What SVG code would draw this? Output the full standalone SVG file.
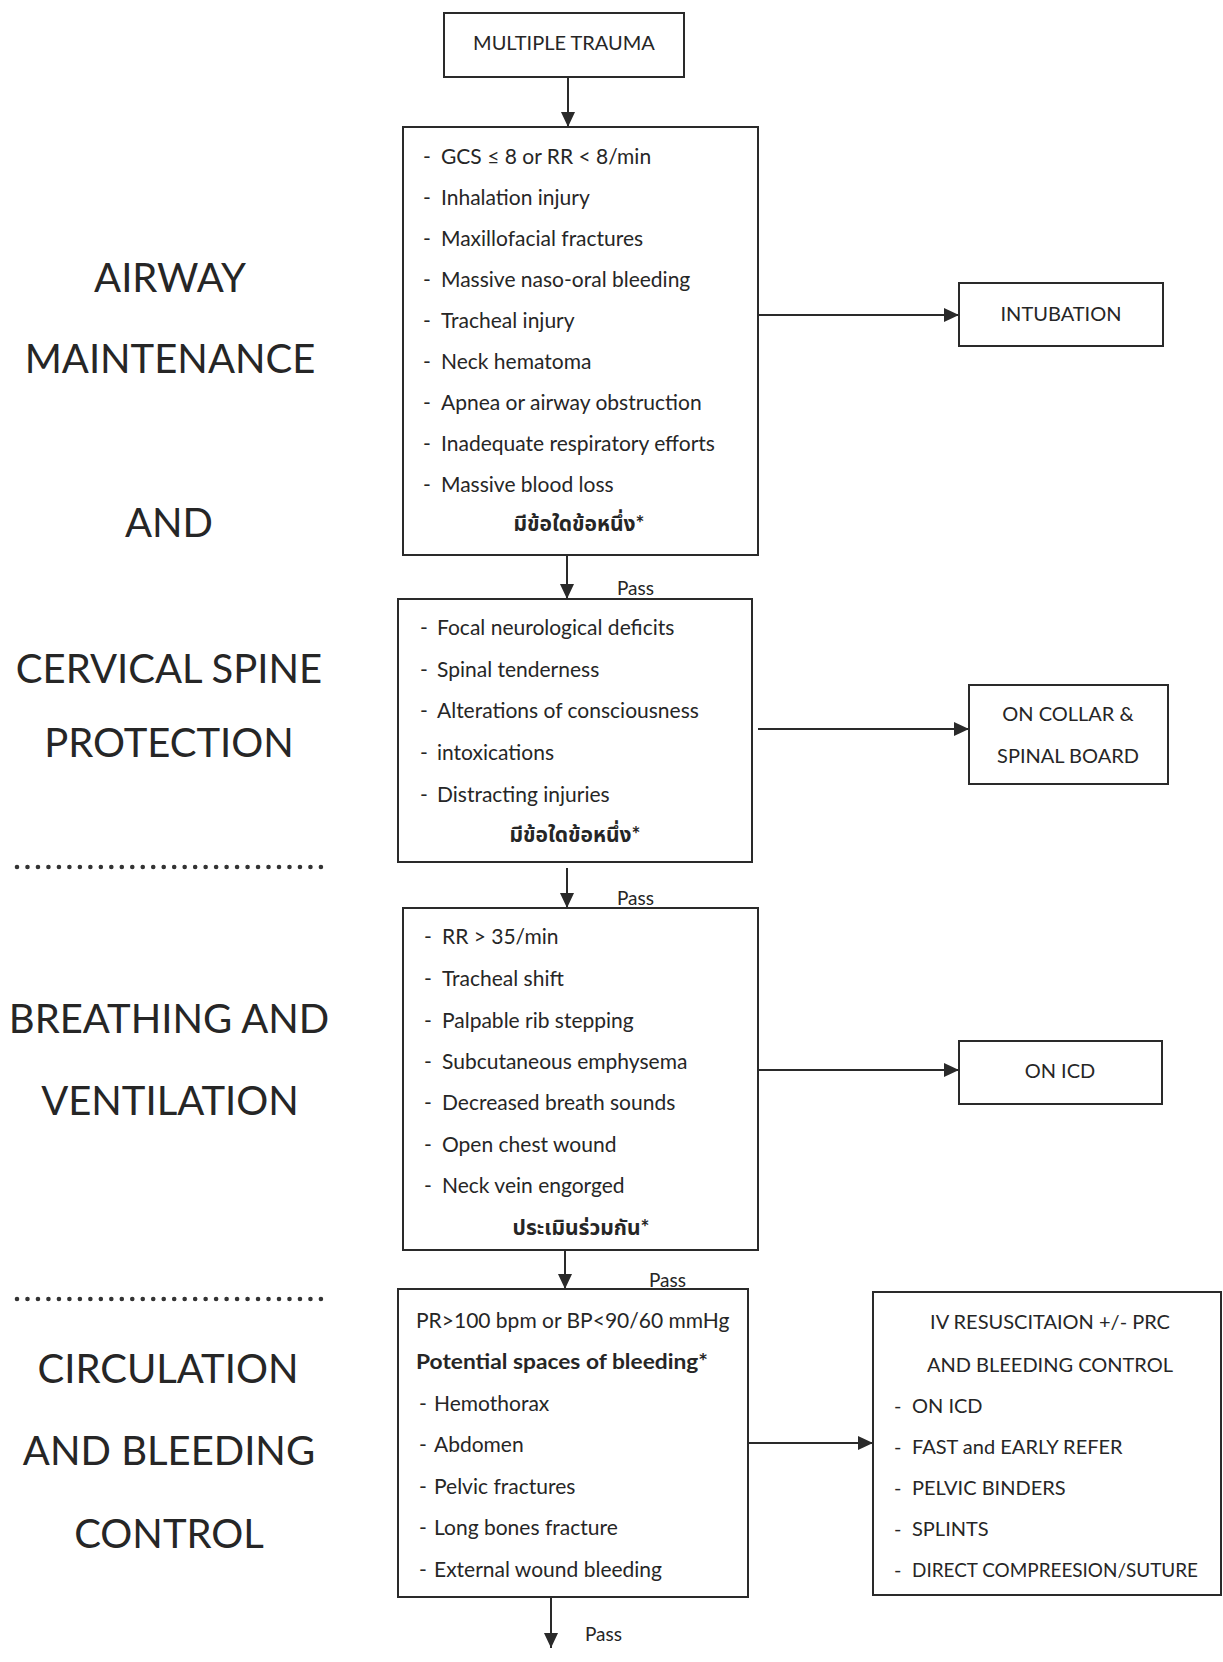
<svg xmlns="http://www.w3.org/2000/svg" width="1223" height="1662" viewBox="0 0 1223 1662">
<style>
  text { font-family: "Lato", "Noto Sans Thai", "Noto Sans", sans-serif; fill: #262626; }
  .box { fill: #ffffff; stroke: #2a2a2a; stroke-width: 2; }
  .t { font-size: 21px; }
  .u { font-size: 20px; }
  .c { font-size: 20px; text-anchor: middle; }
  .th { font-size: 21px; font-weight: bold; text-anchor: middle; }
  .big { font-size: 40px; text-anchor: middle; }
  .pass { font-size: 19px; }
  .conn line { stroke: #2a2a2a; stroke-width: 2; }
  .dots { stroke: #333; stroke-width: 4.6; stroke-linecap: round; stroke-dasharray: 0 10.48; }
</style>
<defs>
  <marker id="ah" markerUnits="userSpaceOnUse" markerWidth="16" markerHeight="14" refX="15" refY="7" orient="auto">
    <path d="M0,0 L15,7 L0,14 Z" fill="#2a2a2a"/>
  </marker>
</defs>
<rect width="1223" height="1662" fill="#ffffff"/>

<g id="side-labels">
  <text class="big" x="170" y="292">AIRWAY</text>
  <text class="big" x="170" y="373">MAINTENANCE</text>
  <text class="big" x="169" y="537">AND</text>
  <text class="big" x="169" y="683">CERVICAL SPINE</text>
  <text class="big" x="169" y="757">PROTECTION</text>
  <line class="dots" x1="17" y1="867" x2="322" y2="867"/>
  <text class="big" x="169" y="1033">BREATHING AND</text>
  <text class="big" x="170" y="1115">VENTILATION</text>
  <line class="dots" x1="17" y1="1299" x2="322" y2="1299"/>
  <text class="big" x="168" y="1383">CIRCULATION</text>
  <text class="big" x="169" y="1465">AND BLEEDING</text>
  <text class="big" x="169" y="1548">CONTROL</text>
</g>

<g id="connectors" class="conn">
  <line x1="568" y1="77" x2="568" y2="127" marker-end="url(#ah)"/>
  <line x1="567" y1="555" x2="567" y2="599" marker-end="url(#ah)"/>
  <line x1="567" y1="868" x2="567" y2="908" marker-end="url(#ah)"/>
  <line x1="565" y1="1250" x2="565" y2="1289" marker-end="url(#ah)"/>
  <line x1="551" y1="1597" x2="551" y2="1648" marker-end="url(#ah)"/>
  <line x1="758" y1="315" x2="959" y2="315" marker-end="url(#ah)"/>
  <line x1="758" y1="729" x2="969" y2="729" marker-end="url(#ah)"/>
  <line x1="758" y1="1070" x2="959" y2="1070" marker-end="url(#ah)"/>
  <line x1="749" y1="1443" x2="873" y2="1443" marker-end="url(#ah)"/>
  <text class="pass" x="617" y="595">Pass</text>
  <text class="pass" x="617" y="905">Pass</text>
  <text class="pass" x="649" y="1287">Pass</text>
  <text class="pass" x="585" y="1641">Pass</text>
</g>

<g id="multiple-trauma">
  <rect class="box" x="444" y="13" width="240" height="64"/>
  <text class="c" x="564" y="50">MULTIPLE TRAUMA</text>
</g>

<g id="airway-criteria">
  <rect class="box" x="403" y="127" width="355" height="428"/>
  <text class="t" x="423" y="164">-</text><text class="t" x="441" y="164">GCS ≤ 8 or RR &lt; 8/min</text>
  <text class="t" x="423" y="205">-</text><text class="t" x="441" y="205">Inhalation injury</text>
  <text class="t" x="423" y="246">-</text><text class="t" x="441" y="246">Maxillofacial fractures</text>
  <text class="t" x="423" y="287">-</text><text class="t" x="441" y="287">Massive naso-oral bleeding</text>
  <text class="t" x="423" y="328">-</text><text class="t" x="441" y="328">Tracheal injury</text>
  <text class="t" x="423" y="369">-</text><text class="t" x="441" y="369">Neck hematoma</text>
  <text class="t" x="423" y="410">-</text><text class="t" x="441" y="410">Apnea or airway obstruction</text>
  <text class="t" x="423" y="451">-</text><text class="t" x="441" y="451">Inadequate respiratory efforts</text>
  <text class="t" x="423" y="492">-</text><text class="t" x="441" y="492">Massive blood loss</text>
  <text class="th" x="579" y="531">มีข้อใดข้อหนึ่ง*</text>
</g>

<g id="intubation">
  <rect class="box" x="959" y="283" width="204" height="63"/>
  <text class="c" x="1061" y="321">INTUBATION</text>
</g>

<g id="cspine-criteria">
  <rect class="box" x="398" y="599" width="354" height="263"/>
  <text class="t" x="420" y="635">-</text><text class="t" x="437" y="635">Focal neurological deficits</text>
  <text class="t" x="420" y="677">-</text><text class="t" x="437" y="677">Spinal tenderness</text>
  <text class="t" x="420" y="718">-</text><text class="t" x="437" y="718">Alterations of consciousness</text>
  <text class="t" x="420" y="760">-</text><text class="t" x="437" y="760">intoxications</text>
  <text class="t" x="420" y="802">-</text><text class="t" x="437" y="802">Distracting injuries</text>
  <text class="th" x="575" y="842">มีข้อใดข้อหนึ่ง*</text>
</g>

<g id="collar">
  <rect class="box" x="969" y="685" width="199" height="99"/>
  <text class="c" x="1068" y="721">ON COLLAR &amp;</text>
  <text class="c" x="1068" y="763">SPINAL BOARD</text>
</g>

<g id="breathing-criteria">
  <rect class="box" x="403" y="908" width="355" height="342"/>
  <text class="t" x="424" y="944">-</text><text class="t" x="442" y="944">RR &gt; 35/min</text>
  <text class="t" x="424" y="986">-</text><text class="t" x="442" y="986">Tracheal shift</text>
  <text class="t" x="424" y="1028">-</text><text class="t" x="442" y="1028">Palpable rib stepping</text>
  <text class="t" x="424" y="1069">-</text><text class="t" x="442" y="1069">Subcutaneous emphysema</text>
  <text class="t" x="424" y="1110">-</text><text class="t" x="442" y="1110">Decreased breath sounds</text>
  <text class="t" x="424" y="1152">-</text><text class="t" x="442" y="1152">Open chest wound</text>
  <text class="t" x="424" y="1193">-</text><text class="t" x="442" y="1193">Neck vein engorged</text>
  <text class="th" x="581" y="1235">ประเมินร่วมกัน*</text>
</g>

<g id="on-icd">
  <rect class="box" x="959" y="1041" width="203" height="63"/>
  <text class="c" x="1060" y="1078">ON ICD</text>
</g>

<g id="circulation-criteria">
  <rect class="box" x="398" y="1289" width="350" height="308"/>
  <text class="t" x="416" y="1328">PR&gt;100 bpm or BP&lt;90/60 mmHg</text>
  <text class="t" x="416" y="1369" font-weight="bold" textLength="292" lengthAdjust="spacingAndGlyphs">Potential spaces of bleeding*</text>
  <text class="t" x="419" y="1411">-</text><text class="t" x="434" y="1411">Hemothorax</text>
  <text class="t" x="419" y="1452">-</text><text class="t" x="434" y="1452">Abdomen</text>
  <text class="t" x="419" y="1494">-</text><text class="t" x="434" y="1494">Pelvic fractures</text>
  <text class="t" x="419" y="1535">-</text><text class="t" x="434" y="1535">Long bones fracture</text>
  <text class="t" x="419" y="1577">-</text><text class="t" x="434" y="1577">External wound bleeding</text>
</g>

<g id="resuscitation">
  <rect class="box" x="873" y="1292" width="348" height="303"/>
  <text class="c" x="1050" y="1329">IV RESUSCITAION +/- PRC</text>
  <text class="c" x="1050" y="1372">AND BLEEDING CONTROL</text>
  <text class="u" x="894" y="1413">-</text><text class="u" x="912" y="1413">ON ICD</text>
  <text class="u" x="894" y="1454">-</text><text class="u" x="912" y="1454">FAST and EARLY REFER</text>
  <text class="u" x="894" y="1495">-</text><text class="u" x="912" y="1495">PELVIC BINDERS</text>
  <text class="u" x="894" y="1536">-</text><text class="u" x="912" y="1536">SPLINTS</text>
  <text class="u" x="894" y="1577">-</text><text class="u" x="912" y="1577" textLength="286" lengthAdjust="spacingAndGlyphs">DIRECT COMPREESION/SUTURE</text>
</g>
</svg>
